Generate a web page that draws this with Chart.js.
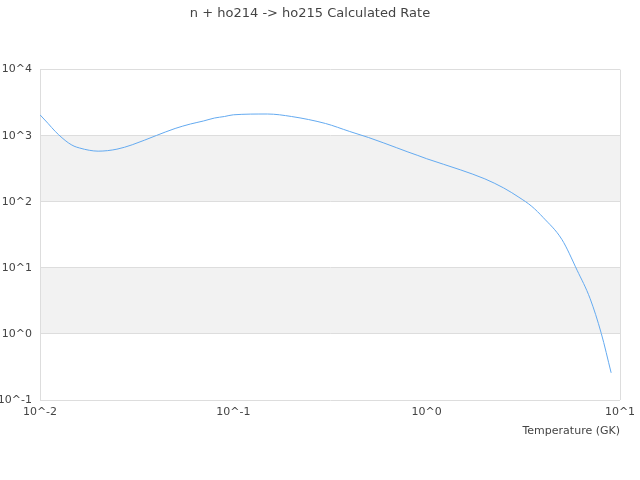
<!DOCTYPE html>
<html>
<head>
<meta charset="utf-8">
<title>n + ho214 -> ho215 Calculated Rate</title>
<script src="https://cdn.jsdelivr.net/npm/chart.js@4/dist/chart.umd.min.js"></script>
<style>
    html, body { margin: 0; padding: 0; background: #fff; }
    #wrap { width: 640px; height: 480px; }
</style>
</head>
<body>
<div id="wrap"><canvas id="rate-chart" width="640" height="480"></canvas></div>
<script>
// Temperatures (GK) and calculated rate
const temperatures = [0.01, 0.011, 0.012, 0.013, 0.014, 0.015, 0.016, 0.018, 0.02, 0.025,
    0.03, 0.04, 0.05, 0.06, 0.07, 0.08, 0.09, 0.1, 0.15, 0.2,
    0.3, 0.4, 0.5, 0.6, 0.7, 0.8, 0.9, 1.0, 1.5, 2.0,
    2.5, 3.0, 3.5, 4.0, 5.0, 6.0, 7.0, 8.0, 9.0];
const rates = [2070, 1535, 1157, 929, 781, 694, 652, 601, 583, 625,
    729, 1007, 1285, 1502, 1667, 1851, 1950, 2070, 2128, 1950,
    1528, 1157, 939, 776, 656, 567, 502, 448, 303, 222,
    162, 117, 85, 58, 27, 9.2, 3.44, 1.02, 0.258];

// Axis ticks (decades only)
const xTicks = [0.01, 0.1, 1, 10];
const yTicks = [0.1, 1, 10, 100, 1000, 10000];

const textColor = '#444';
const gridColor = '#dddddd';
const bandColor = '#f2f2f2';

Chart.defaults.font.family = "'DejaVu Sans', sans-serif";

function decadeLabel(value) {
    return '10^' + Math.round(Math.log10(value));
}

// Alternate shaded bands between y gridlines
const bandPlugin = {
    id: 'bands',
    beforeDraw(chart) {
        const ctx = chart.ctx;
        const area = chart.chartArea;
        const y = chart.scales.y;
        ctx.save();
        ctx.fillStyle = bandColor;
        for (let i = 0; i < yTicks.length - 1; i++) {
            if (i % 2 === 1) {
                const top = y.getPixelForValue(yTicks[i + 1]);
                const bottom = y.getPixelForValue(yTicks[i]);
                ctx.fillRect(area.left, top, area.right - area.left, bottom - top);
            }
        }
        ctx.restore();
    }
};

const ctx = document.getElementById('rate-chart').getContext('2d');
new Chart(ctx, {
    type: 'line',
    data: {
        datasets: [{
            label: 'Rate',
            data: temperatures.map((t, i) => ({ x: t, y: rates[i] })),
            borderColor: 'rgb(100, 170, 240)',
            backgroundColor: 'rgb(100, 170, 240)',
            borderWidth: 1,
            pointRadius: 0,
            cubicInterpolationMode: 'monotone',
            fill: false
        }]
    },
    options: {
        responsive: false,
        animation: false,
        layout: {
            padding: { left: 0, right: 20, top: 0, bottom: 0 }
        },
        plugins: {
            legend: { display: false },
            tooltip: { enabled: false },
            title: {
                display: true,
                text: 'n + ho214 -> ho215 Calculated Rate',
                color: textColor,
                font: { size: 13, weight: 'normal' },
                padding: { top: 6, bottom: 48 }
            }
        },
        scales: {
            x: {
                type: 'logarithmic',
                min: 0.01,
                max: 10,
                afterBuildTicks: scale => {
                    scale.ticks = xTicks.map(v => ({ value: v }));
                },
                afterFit: scale => {
                    scale.height = 80;
                    scale.paddingLeft = 0;
                    scale.paddingRight = 0;
                },
                ticks: {
                    color: textColor,
                    font: { size: 11 },
                    padding: 6,
                    maxRotation: 0,
                    autoSkip: false,
                    callback: value => decadeLabel(value)
                },
                grid: {
                    drawTicks: false,
                    color: c => (c.index === 0 || c.index === xTicks.length - 1) ? gridColor : 'rgba(0,0,0,0)'
                },
                border: { display: false },
                title: {
                    display: true,
                    text: 'Temperature (GK)',
                    align: 'end',
                    color: textColor,
                    font: { size: 11 },
                    padding: { top: 0, bottom: 42 }
                }
            },
            y: {
                type: 'logarithmic',
                min: 0.1,
                max: 10000,
                afterBuildTicks: scale => {
                    scale.ticks = yTicks.map(v => ({ value: v }));
                },
                afterFit: scale => { scale.width = 40; },
                ticks: {
                    color: textColor,
                    font: { size: 11 },
                    padding: 8,
                    autoSkip: false,
                    callback: value => decadeLabel(value)
                },
                grid: {
                    drawTicks: false,
                    color: gridColor
                },
                border: { display: true, color: gridColor }
            }
        }
    },
    plugins: [bandPlugin]
});
</script>
</body>
</html>
